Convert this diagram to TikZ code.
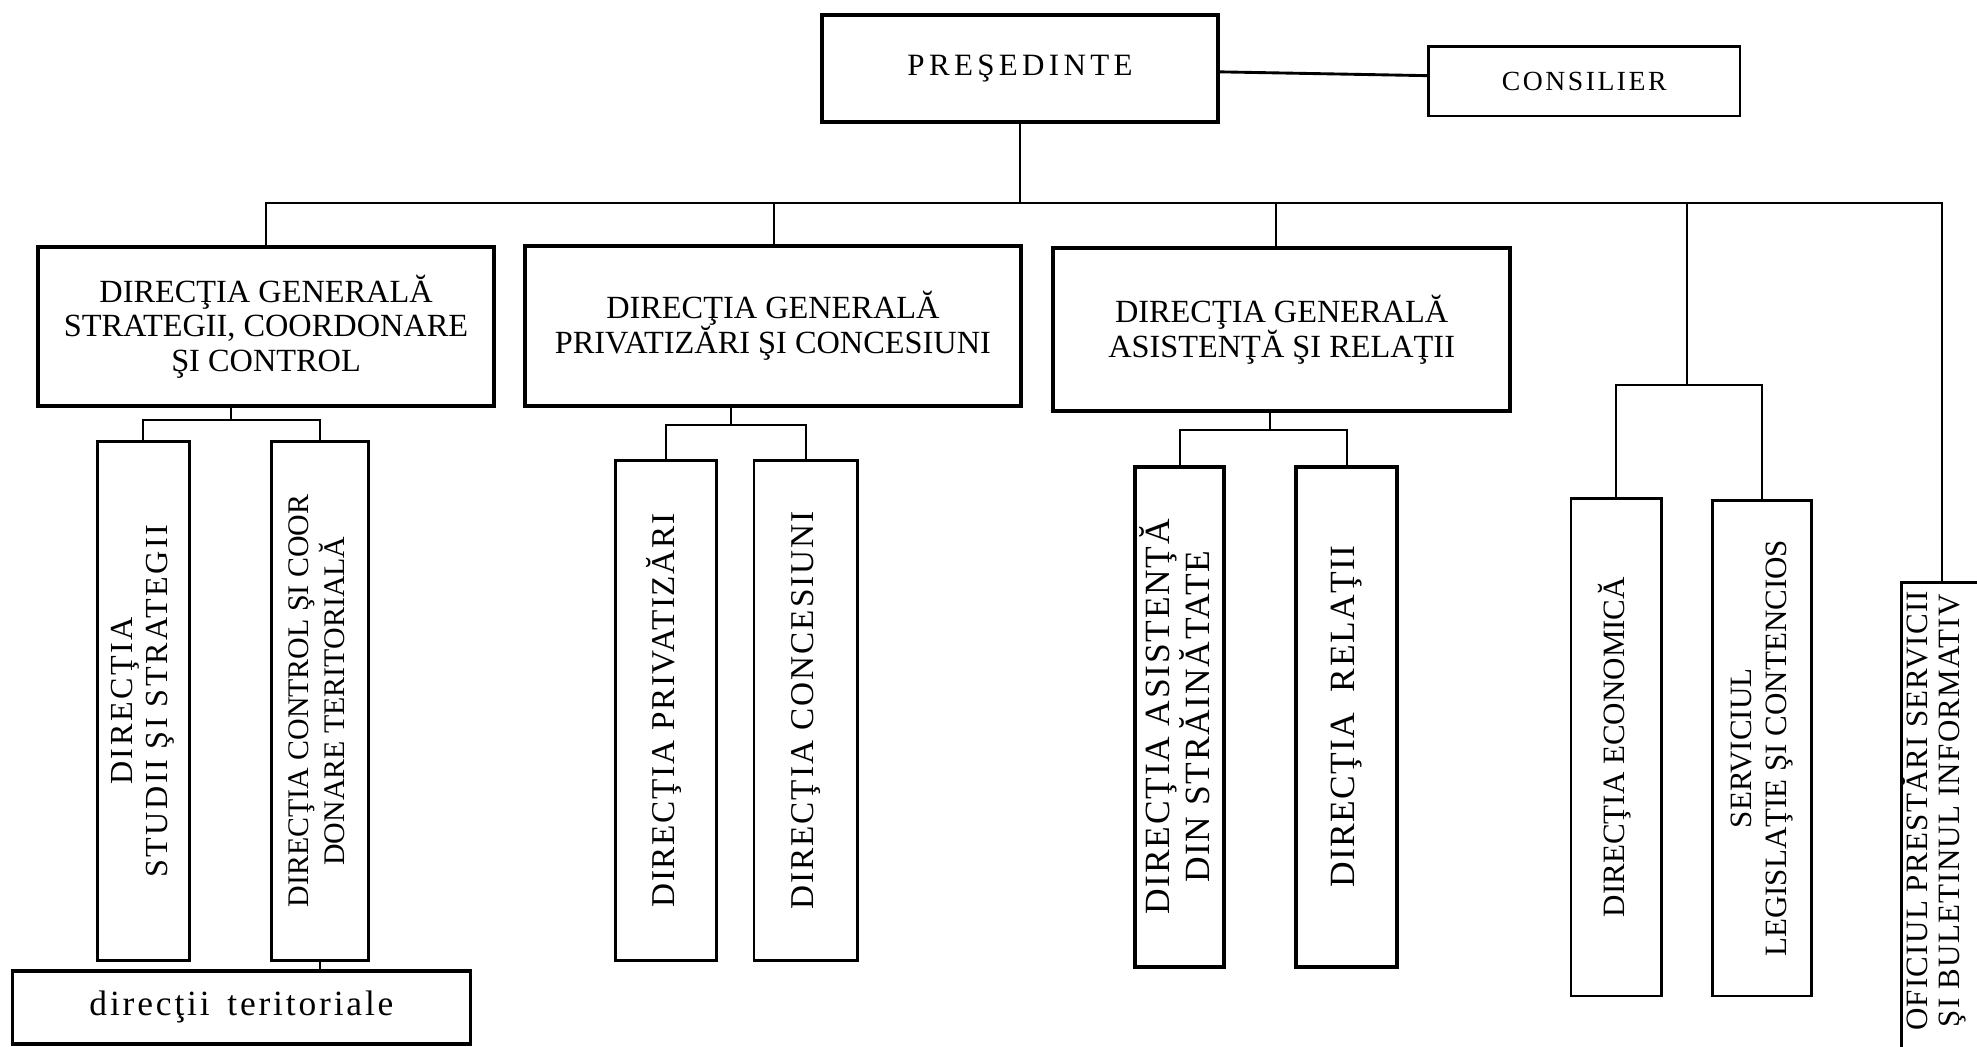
\documentclass[tikz,border=0pt]{standalone}
\usepackage{graphicx}
\usepackage{fontspec}
\setmainfont{Liberation Serif}
\newcommand{\vtext}[1]{\rotatebox{90}{\begin{tabular}{@{}c@{}}#1\end{tabular}}}
\newcommand{\fs}[3]{\fontsize{#1}{#2}\selectfont\addfontfeature{LetterSpace=#3}}
\tikzset{
  box/.style={draw, line width=1.3pt, inner sep=0pt, align=center},
  thickbox/.style={box, line width=1.8pt},
  conn/.style={line width=0.9pt},
  dgfont/.style={font=\fs{14.6}{15.5}{0}},
}
\begin{document}
\begin{tikzpicture}[x=0.02cm,y=-0.02cm]
\useasboundingbox (0,0) rectangle (1568,830);
\clip (0,0) rectangle (1568,830);
\fill[white] (0,0) rectangle (1568,830);

% top level
\node[thickbox, minimum width=6.28cm, minimum height=1.70cm, font=\fs{14}{16}{14}] (pres) at (809,54.5) {PREŞEDINTE};
\node[box, minimum width=4.94cm, minimum height=1.10cm, font=\fs{12.5}{14}{9}] (cons) at (1256.5,64.5) {CONSILIER};

% general directorates
\node[thickbox, dgfont, minimum width=7.24cm, minimum height=2.52cm] (dg1) at (211,259) {DIRECŢIA GENERALĂ\\STRATEGII, COORDONARE\\ŞI CONTROL};
\node[thickbox, dgfont, minimum width=7.88cm, minimum height=2.54cm] (dg2) at (613,258.5) {DIRECŢIA GENERALĂ\\PRIVATIZĂRI ŞI CONCESIUNI};
\node[thickbox, dgfont, minimum width=7.26cm, minimum height=2.58cm] (dg3) at (1016.5,261.5) {DIRECŢIA GENERALĂ\\ASISTENŢĂ ŞI RELAŢII};

% vertical boxes
\node[box, minimum width=1.46cm, minimum height=8.24cm, font=\fs{14.5}{16}{8}] (ds) at (113.5,556) {\vtext{DIRECŢIA\\STUDII ŞI STRATEGII}};
\node[box, minimum width=1.54cm, minimum height=8.24cm, font=\fs{13.5}{15.5}{0}] (dc) at (253.5,556) {\vtext{DIRECŢIA CONTROL ŞI COOR\\DONARE TERITORIALĂ}};
\node[box, line width=1.5pt, minimum width=7.26cm, minimum height=1.16cm, font=\fs{16}{18}{8}] (dt) at (191.5,799) {direcţii\, teritoriale};

\node[box, minimum width=1.60cm, minimum height=7.94cm, font=\fs{15}{17}{5}] (dp) at (528,563.5) {\vtext{DIRECŢIA PRIVATIZĂRI}};
\node[box, minimum width=1.64cm, minimum height=7.94cm, font=\fs{15}{17}{6}] (dco) at (639,563.5) {\vtext{DIRECŢIA CONCESIUNI}};

\node[thickbox, minimum width=1.42cm, minimum height=7.94cm, font=\fs{16}{15.5}{5}] (da) at (935.5,568.5) {\vtext{DIRECŢIA ASISTENŢĂ\\DIN STRĂINĂTATE}};
\node[thickbox, minimum width=1.60cm, minimum height=7.94cm, font=\fs{16}{18}{4}] (dr) at (1068,568.5) {\vtext{DIRECŢIA\ \ RELAŢII}};

\node[box, minimum width=1.44cm, minimum height=7.90cm, font=\fs{14}{16}{0}] (de) at (1282,592.5) {\vtext{DIRECŢIA ECONOMICĂ}};
\node[box, minimum width=1.58cm, minimum height=7.86cm, font=\fs{14}{15.5}{0}] (sl) at (1397.5,593.5) {\vtext{SERVICIUL\\LEGISLAŢIE ŞI CONTENCIOS}};

\node[box, minimum width=1.28cm, minimum height=8.76cm] (of) at (1540,681) {};
\node[inner sep=0pt, font=\fs{14}{14.7}{4}] (oftext) at (1535,643) {\vtext{OFICIUL PRESTĂRI SERVICII\\ŞI BULETINUL INFORMATIV}};

% connectors
\draw[conn, line width=1.3pt] ([yshift=-0.05cm]pres.east) -- ([yshift=0.09cm]cons.west);
\coordinate (bus) at (809,161);
\draw[conn] (pres.south) -- (bus);
\draw[conn] (dg1.north) |- (of.north |- bus) -- (of.north);
\coordinate (b2) at (614,161);
\draw[conn] (b2) -- (b2 |- dg2.north);
\coordinate (b3) at (1012,161);
\draw[conn] (b3) -- (b3 |- dg3.north);
\coordinate (es) at (1338,305);
\draw[conn] (es |- bus) -- (es);
\draw[conn] (de.north) |- (es) -| (sl.north);

\coordinate (t1) at (183,333);
\draw[conn] (t1 |- dg1.south) -- (t1);
\draw[conn] (ds.north) |- (t1) -| (dc.north);
\draw[conn] (dc.south) -- (dc.south |- dt.north);

\coordinate (t2) at (580,337);
\draw[conn] (t2 |- dg2.south) -- (t2);
\draw[conn] (dp.north) |- (t2) -| (dco.north);

\coordinate (t3) at (1007,341);
\draw[conn] (t3 |- dg3.south) -- (t3);
\draw[conn] (da.north) |- (t3) -| (dr.north);
\end{tikzpicture}
\end{document}
